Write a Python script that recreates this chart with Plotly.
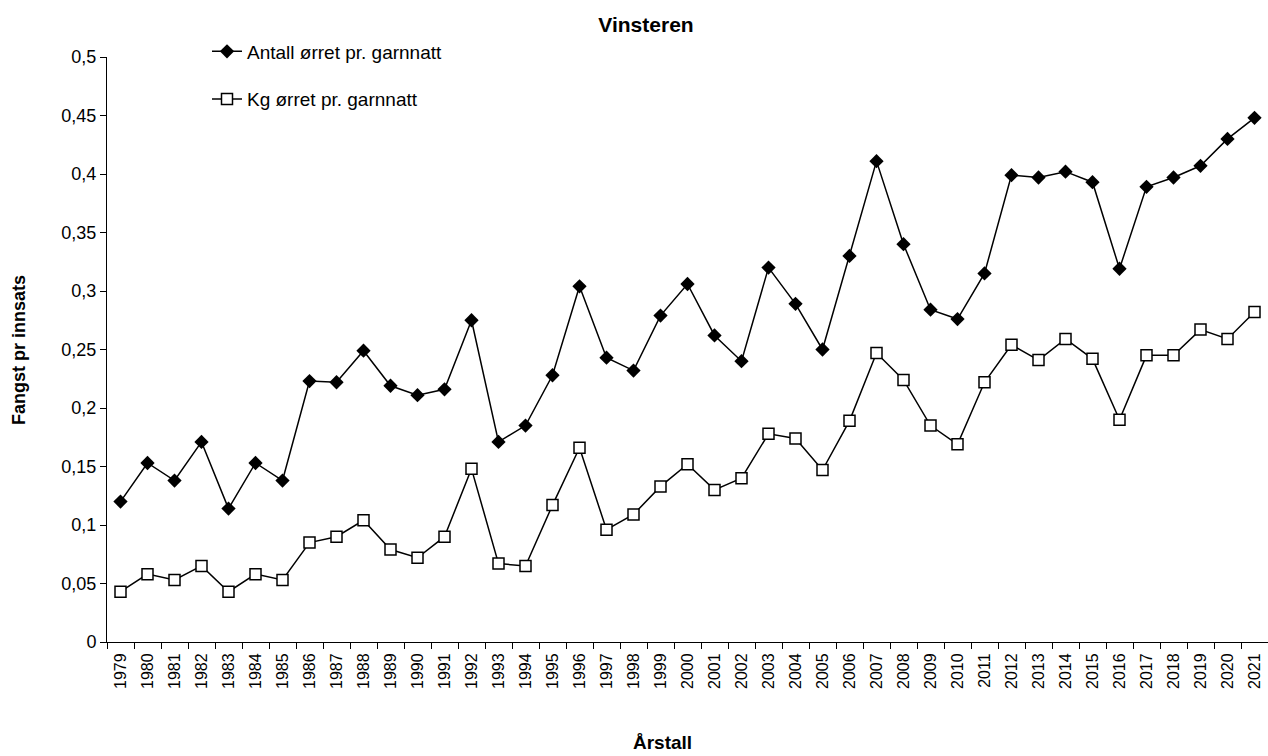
import plotly.graph_objects as go

years = [str(y) for y in range(1979, 2022)]

antall = [0.120, 0.153, 0.138, 0.171, 0.114, 0.153, 0.138, 0.223, 0.222, 0.249,
          0.219, 0.211, 0.216, 0.275, 0.171, 0.185, 0.228, 0.304, 0.243, 0.232,
          0.279, 0.306, 0.262, 0.240, 0.320, 0.289, 0.250, 0.330, 0.411, 0.340,
          0.284, 0.276, 0.315, 0.399, 0.397, 0.402, 0.393, 0.319, 0.389, 0.397,
          0.407, 0.430, 0.448]

kg = [0.043, 0.058, 0.053, 0.065, 0.043, 0.058, 0.053, 0.085, 0.090, 0.104,
      0.079, 0.072, 0.090, 0.148, 0.067, 0.065, 0.117, 0.166, 0.096, 0.109,
      0.133, 0.152, 0.130, 0.140, 0.178, 0.174, 0.147, 0.189, 0.247, 0.224,
      0.185, 0.169, 0.222, 0.254, 0.241, 0.259, 0.242, 0.190, 0.245, 0.245,
      0.267, 0.259, 0.282]

FONT = "Arial, Liberation Sans, sans-serif"
W, H = 1268, 756
L, R, T, B = 107, 0, 57, 114
PW, PH = W - L - R, H - T - B

fig = go.Figure()
fig.add_trace(go.Scatter(
    x=years, y=antall, mode="lines+markers", name="Antall ørret pr. garnnatt",
    line=dict(color="black", width=1.5),
    marker=dict(symbol="diamond", size=11, color="black"),
    legendgroup="a"))
fig.add_trace(go.Scatter(
    x=years, y=kg, mode="lines+markers", name="Kg ørret pr. garnnatt",
    line=dict(color="black", width=1.5),
    marker=dict(symbol="square", size=11, color="white", line=dict(color="black", width=1.5)),
    legendgroup="b"))

fig.update_layout(
    width=W, height=H,
    margin=dict(l=L, r=R, t=T, b=B),
    paper_bgcolor="white", plot_bgcolor="white",
    separators=", ",
    font=dict(family=FONT, size=18, color="black"),
    title=dict(text="<b>Vinsteren</b>", x=646/W, xanchor="center",
               yref="container", y=1-25/H, yanchor="middle",
               font=dict(family=FONT, size=21, color="black")),
    showlegend=True,
    legend=dict(x=(207-L)/PW, y=1.042, xanchor="left", yanchor="top",
                bgcolor="rgba(0,0,0,0)", tracegroupgap=20,
                font=dict(family=FONT, size=19, color="black")),
    xaxis=dict(type="category", tickson="boundaries", ticks="outside", ticklen=6,
               tickcolor="black", showline=True, linecolor="black", linewidth=1,
               showgrid=False, tickangle=-90, tickfont=dict(size=16),
               ticklabelstandoff=4, range=[-0.5, 42.5]),
    yaxis=dict(range=[0, 0.5], dtick=0.05, ticks="outside", ticklen=6,
               tickcolor="black", showline=True, linecolor="black", linewidth=1,
               showgrid=False, zeroline=False, tickfont=dict(size=18)),
    annotations=[
        dict(text="<b>Årstall</b>", xref="paper", yref="paper",
             x=(662-L)/PW, y=(H-B-742)/PH, xanchor="center", yanchor="middle",
             showarrow=False, font=dict(family=FONT, size=19, color="black")),
        dict(text="<b>Fangst pr innsats</b>", xref="paper", yref="paper",
             x=(19-L)/PW, y=(H-B-350)/PH, xanchor="center", yanchor="middle",
             textangle=-90, showarrow=False,
             font=dict(family=FONT, size=18, color="black")),
    ],
)

fig.write_html("out.html", config={"displayModeBar": False},
               post_script="document.body.style.margin='0px';")
